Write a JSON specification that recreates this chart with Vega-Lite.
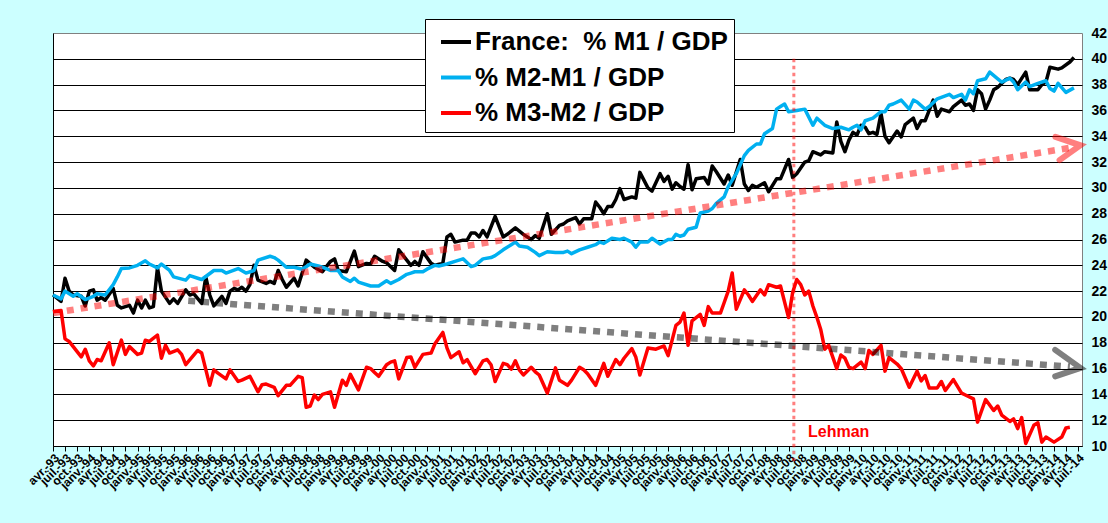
{
  "$schema": "https://vega.github.io/schema/vega-lite/v6.json",
  "width": 1029,
  "height": 413,
  "autosize": "none",
  "padding": {"left": 53, "top": 33, "right": 26, "bottom": 77},
  "background": "#ccffff",
  "config": {
    "font": "Liberation Sans",
    "view": {"fill": "#ffffff", "stroke": "#808080", "strokeWidth": 1},
    "legend": {
      "orient": "none", "legendX": 372, "legendY": -14,
      "fillColor": "#ffffff", "strokeColor": "#000000", "strokeWidth": 1,
      "padding": 6, "rowPadding": 5.5,
      "symbolType": "stroke", "symbolSize": 900, "symbolStrokeWidth": 4, "symbolOffset": 8,
      "labelFontSize": 26, "labelFontWeight": "bold", "labelColor": "#000000",
      "labelOffset": 2, "labelLimit": 0, "zindex": 1
    }
  },
  "layer": [
    {
      "data": {"values": [
        {"s":"M1","d":"1993-04","v":21.7},{"s":"M1","d":"1993-06","v":21.2},{"s":"M1","d":"1993-07","v":23.0},{"s":"M1","d":"1993-08","v":22.0},{"s":"M1","d":"1993-09","v":21.7},{"s":"M1","d":"1993-11","v":21.6},{"s":"M1","d":"1993-12","v":20.85},
        {"s":"M1","d":"1994-01","v":22.0},{"s":"M1","d":"1994-02","v":22.1},{"s":"M1","d":"1994-03","v":21.3},{"s":"M1","d":"1994-04","v":21.5},{"s":"M1","d":"1994-05","v":21.3},{"s":"M1","d":"1994-07","v":22.2},{"s":"M1","d":"1994-08","v":20.9},{"s":"M1","d":"1994-09","v":20.7},{"s":"M1","d":"1994-11","v":20.9},{"s":"M1","d":"1994-12","v":20.3},
        {"s":"M1","d":"1995-01","v":21.3},{"s":"M1","d":"1995-02","v":20.7},{"s":"M1","d":"1995-03","v":21.3},{"s":"M1","d":"1995-04","v":20.7},{"s":"M1","d":"1995-05","v":20.8},{"s":"M1","d":"1995-06","v":23.8},{"s":"M1","d":"1995-07","v":22.0},{"s":"M1","d":"1995-09","v":21.05},{"s":"M1","d":"1995-10","v":21.4},{"s":"M1","d":"1995-11","v":21.05},
        {"s":"M1","d":"1996-01","v":22.1},{"s":"M1","d":"1996-02","v":21.7},{"s":"M1","d":"1996-03","v":21.8},{"s":"M1","d":"1996-05","v":21.05},{"s":"M1","d":"1996-06","v":23.1},{"s":"M1","d":"1996-07","v":21.7},{"s":"M1","d":"1996-08","v":20.85},{"s":"M1","d":"1996-10","v":21.6},{"s":"M1","d":"1996-11","v":21.05},{"s":"M1","d":"1996-12","v":22.0},
        {"s":"M1","d":"1997-01","v":22.2},{"s":"M1","d":"1997-02","v":22.1},{"s":"M1","d":"1997-03","v":22.3},{"s":"M1","d":"1997-04","v":22.0},{"s":"M1","d":"1997-05","v":22.5},{"s":"M1","d":"1997-06","v":24.0},{"s":"M1","d":"1997-07","v":22.85},{"s":"M1","d":"1997-09","v":22.6},{"s":"M1","d":"1997-10","v":22.75},{"s":"M1","d":"1997-11","v":22.6},{"s":"M1","d":"1997-12","v":23.6},
        {"s":"M1","d":"1998-01","v":22.9},{"s":"M1","d":"1998-02","v":22.3},{"s":"M1","d":"1998-04","v":23.0},{"s":"M1","d":"1998-05","v":22.4},{"s":"M1","d":"1998-07","v":24.4},{"s":"M1","d":"1998-09","v":23.85},{"s":"M1","d":"1998-11","v":23.5},
        {"s":"M1","d":"1999-01","v":24.3},{"s":"M1","d":"1999-02","v":24.5},{"s":"M1","d":"1999-03","v":23.6},{"s":"M1","d":"1999-05","v":23.5},{"s":"M1","d":"1999-07","v":25.1},{"s":"M1","d":"1999-08","v":23.9},{"s":"M1","d":"1999-10","v":24.15},{"s":"M1","d":"1999-11","v":24.1},{"s":"M1","d":"1999-12","v":24.7},
        {"s":"M1","d":"2000-02","v":24.3},{"s":"M1","d":"2000-03","v":24.2},{"s":"M1","d":"2000-05","v":23.6},{"s":"M1","d":"2000-06","v":25.2},{"s":"M1","d":"2000-08","v":24.4},{"s":"M1","d":"2000-09","v":24.0},{"s":"M1","d":"2000-10","v":24.3},{"s":"M1","d":"2000-11","v":24.0},{"s":"M1","d":"2000-12","v":25.05},
        {"s":"M1","d":"2001-02","v":24.15},{"s":"M1","d":"2001-03","v":24.0},{"s":"M1","d":"2001-05","v":24.15},{"s":"M1","d":"2001-06","v":26.2},{"s":"M1","d":"2001-07","v":26.4},{"s":"M1","d":"2001-08","v":25.8},{"s":"M1","d":"2001-10","v":25.95},{"s":"M1","d":"2001-11","v":25.95},{"s":"M1","d":"2001-12","v":26.5},
        {"s":"M1","d":"2002-01","v":26.5},{"s":"M1","d":"2002-02","v":26.2},{"s":"M1","d":"2002-03","v":26.7},{"s":"M1","d":"2002-04","v":26.2},{"s":"M1","d":"2002-06","v":27.8},{"s":"M1","d":"2002-08","v":26.2},{"s":"M1","d":"2002-09","v":26.4},{"s":"M1","d":"2002-11","v":26.9},
        {"s":"M1","d":"2003-01","v":26.4},{"s":"M1","d":"2003-03","v":26.0},{"s":"M1","d":"2003-04","v":26.3},{"s":"M1","d":"2003-05","v":26.1},{"s":"M1","d":"2003-07","v":28.0},{"s":"M1","d":"2003-08","v":26.4},{"s":"M1","d":"2003-10","v":27.1},{"s":"M1","d":"2003-11","v":27.2},{"s":"M1","d":"2003-12","v":27.45},
        {"s":"M1","d":"2004-02","v":27.7},{"s":"M1","d":"2004-03","v":27.2},{"s":"M1","d":"2004-04","v":27.6},{"s":"M1","d":"2004-06","v":27.6},{"s":"M1","d":"2004-07","v":28.9},{"s":"M1","d":"2004-08","v":28.5},{"s":"M1","d":"2004-09","v":28.0},{"s":"M1","d":"2004-10","v":28.55},{"s":"M1","d":"2004-11","v":28.55},{"s":"M1","d":"2004-12","v":29.1},
        {"s":"M1","d":"2005-01","v":29.95},{"s":"M1","d":"2005-02","v":29.1},{"s":"M1","d":"2005-04","v":29.3},{"s":"M1","d":"2005-05","v":29.2},{"s":"M1","d":"2005-06","v":31.2},{"s":"M1","d":"2005-08","v":30.0},{"s":"M1","d":"2005-09","v":29.75},{"s":"M1","d":"2005-11","v":31.1},{"s":"M1","d":"2005-12","v":30.5},
        {"s":"M1","d":"2006-01","v":30.9},{"s":"M1","d":"2006-02","v":29.9},{"s":"M1","d":"2006-03","v":30.4},{"s":"M1","d":"2006-04","v":30.1},{"s":"M1","d":"2006-05","v":29.9},{"s":"M1","d":"2006-06","v":31.8},{"s":"M1","d":"2006-07","v":29.85},{"s":"M1","d":"2006-08","v":30.7},{"s":"M1","d":"2006-10","v":30.8},{"s":"M1","d":"2006-11","v":30.3},{"s":"M1","d":"2006-12","v":31.7},
        {"s":"M1","d":"2007-01","v":31.25},{"s":"M1","d":"2007-03","v":30.3},{"s":"M1","d":"2007-04","v":31.0},{"s":"M1","d":"2007-05","v":30.2},{"s":"M1","d":"2007-07","v":32.2},{"s":"M1","d":"2007-08","v":30.3},{"s":"M1","d":"2007-09","v":29.8},{"s":"M1","d":"2007-10","v":30.2},{"s":"M1","d":"2007-11","v":30.05},
        {"s":"M1","d":"2008-01","v":30.4},{"s":"M1","d":"2008-02","v":29.7},{"s":"M1","d":"2008-04","v":30.7},{"s":"M1","d":"2008-05","v":30.7},{"s":"M1","d":"2008-07","v":32.2},{"s":"M1","d":"2008-08","v":30.8},{"s":"M1","d":"2008-09","v":31.1},{"s":"M1","d":"2008-11","v":32.0},{"s":"M1","d":"2008-12","v":32.1},
        {"s":"M1","d":"2009-01","v":32.8},{"s":"M1","d":"2009-03","v":32.55},{"s":"M1","d":"2009-04","v":32.8},{"s":"M1","d":"2009-06","v":32.7},{"s":"M1","d":"2009-07","v":35.1},{"s":"M1","d":"2009-08","v":33.6},{"s":"M1","d":"2009-09","v":32.8},{"s":"M1","d":"2009-10","v":33.7},{"s":"M1","d":"2009-11","v":34.3},{"s":"M1","d":"2009-12","v":34.1},
        {"s":"M1","d":"2010-01","v":34.85},{"s":"M1","d":"2010-02","v":34.7},{"s":"M1","d":"2010-03","v":34.2},{"s":"M1","d":"2010-04","v":34.3},{"s":"M1","d":"2010-05","v":34.15},{"s":"M1","d":"2010-06","v":35.75},{"s":"M1","d":"2010-07","v":34.0},{"s":"M1","d":"2010-08","v":33.5},{"s":"M1","d":"2010-10","v":34.4},{"s":"M1","d":"2010-11","v":33.95},{"s":"M1","d":"2010-12","v":34.9},
        {"s":"M1","d":"2011-02","v":35.4},{"s":"M1","d":"2011-03","v":34.6},{"s":"M1","d":"2011-04","v":35.2},{"s":"M1","d":"2011-05","v":35.2},{"s":"M1","d":"2011-06","v":36.0},{"s":"M1","d":"2011-07","v":36.8},{"s":"M1","d":"2011-08","v":35.55},{"s":"M1","d":"2011-09","v":36.1},{"s":"M1","d":"2011-11","v":35.9},{"s":"M1","d":"2011-12","v":36.3},
        {"s":"M1","d":"2012-02","v":36.8},{"s":"M1","d":"2012-03","v":36.4},{"s":"M1","d":"2012-04","v":36.5},{"s":"M1","d":"2012-05","v":36.0},{"s":"M1","d":"2012-06","v":37.6},{"s":"M1","d":"2012-07","v":37.3},{"s":"M1","d":"2012-08","v":36.1},{"s":"M1","d":"2012-09","v":36.8},{"s":"M1","d":"2012-10","v":37.6},{"s":"M1","d":"2012-11","v":37.8},
        {"s":"M1","d":"2013-01","v":38.4},{"s":"M1","d":"2013-02","v":38.5},{"s":"M1","d":"2013-03","v":38.4},{"s":"M1","d":"2013-04","v":38.0},{"s":"M1","d":"2013-06","v":38.97},{"s":"M1","d":"2013-07","v":37.6},{"s":"M1","d":"2013-09","v":37.6},{"s":"M1","d":"2013-10","v":38.0},{"s":"M1","d":"2013-11","v":38.2},{"s":"M1","d":"2013-12","v":39.35},
        {"s":"M1","d":"2014-02","v":39.2},{"s":"M1","d":"2014-03","v":39.3},{"s":"M1","d":"2014-05","v":39.75},{"s":"M1","d":"2014-06","v":40.1},

        {"s":"M2","d":"1993-04","v":21.7},{"s":"M2","d":"1993-06","v":21.4},{"s":"M2","d":"1993-07","v":22.0},{"s":"M2","d":"1993-09","v":21.6},{"s":"M2","d":"1993-10","v":21.8},{"s":"M2","d":"1993-12","v":21.35},
        {"s":"M2","d":"1994-02","v":21.6},{"s":"M2","d":"1994-03","v":21.8},{"s":"M2","d":"1994-05","v":21.7},{"s":"M2","d":"1994-07","v":22.5},{"s":"M2","d":"1994-08","v":23.1},{"s":"M2","d":"1994-09","v":23.75},{"s":"M2","d":"1994-11","v":23.8},
        {"s":"M2","d":"1995-01","v":24.0},{"s":"M2","d":"1995-03","v":24.35},{"s":"M2","d":"1995-04","v":24.1},{"s":"M2","d":"1995-06","v":23.8},{"s":"M2","d":"1995-07","v":24.1},{"s":"M2","d":"1995-09","v":23.6},{"s":"M2","d":"1995-10","v":23.1},
        {"s":"M2","d":"1996-01","v":22.85},{"s":"M2","d":"1996-02","v":23.2},{"s":"M2","d":"1996-04","v":23.0},{"s":"M2","d":"1996-05","v":22.9},{"s":"M2","d":"1996-08","v":23.6},{"s":"M2","d":"1996-10","v":23.6},{"s":"M2","d":"1996-11","v":23.4},
        {"s":"M2","d":"1997-02","v":23.75},{"s":"M2","d":"1997-04","v":23.4},{"s":"M2","d":"1997-06","v":23.6},{"s":"M2","d":"1997-07","v":24.4},{"s":"M2","d":"1997-10","v":24.7},{"s":"M2","d":"1997-11","v":24.6},{"s":"M2","d":"1997-12","v":24.4},
        {"s":"M2","d":"1998-02","v":23.85},{"s":"M2","d":"1998-04","v":23.85},{"s":"M2","d":"1998-06","v":23.7},{"s":"M2","d":"1998-08","v":24.1},{"s":"M2","d":"1998-10","v":23.95},{"s":"M2","d":"1998-11","v":23.85},
        {"s":"M2","d":"1999-01","v":23.6},{"s":"M2","d":"1999-03","v":23.6},{"s":"M2","d":"1999-04","v":23.1},{"s":"M2","d":"1999-06","v":22.75},{"s":"M2","d":"1999-07","v":23.0},{"s":"M2","d":"1999-08","v":22.7},{"s":"M2","d":"1999-11","v":22.4},
        {"s":"M2","d":"2000-01","v":22.4},{"s":"M2","d":"2000-03","v":22.8},{"s":"M2","d":"2000-04","v":22.6},{"s":"M2","d":"2000-06","v":22.9},{"s":"M2","d":"2000-08","v":23.3},{"s":"M2","d":"2000-09","v":23.4},{"s":"M2","d":"2000-10","v":23.5},{"s":"M2","d":"2000-12","v":23.5},
        {"s":"M2","d":"2001-01","v":23.7},{"s":"M2","d":"2001-03","v":24.0},{"s":"M2","d":"2001-04","v":23.95},{"s":"M2","d":"2001-06","v":24.1},{"s":"M2","d":"2001-08","v":24.3},{"s":"M2","d":"2001-10","v":24.5},{"s":"M2","d":"2001-12","v":23.9},
        {"s":"M2","d":"2002-01","v":24.0},{"s":"M2","d":"2002-03","v":24.5},{"s":"M2","d":"2002-05","v":24.6},{"s":"M2","d":"2002-06","v":24.75},{"s":"M2","d":"2002-08","v":25.2},{"s":"M2","d":"2002-10","v":25.6},{"s":"M2","d":"2002-11","v":25.8},{"s":"M2","d":"2002-12","v":25.5},
        {"s":"M2","d":"2003-02","v":25.4},{"s":"M2","d":"2003-04","v":25.0},{"s":"M2","d":"2003-05","v":24.75},{"s":"M2","d":"2003-07","v":25.05},{"s":"M2","d":"2003-09","v":25.0},{"s":"M2","d":"2003-11","v":25.0},{"s":"M2","d":"2003-12","v":25.1},
        {"s":"M2","d":"2004-01","v":24.9},{"s":"M2","d":"2004-03","v":25.2},{"s":"M2","d":"2004-05","v":25.4},{"s":"M2","d":"2004-07","v":25.6},{"s":"M2","d":"2004-08","v":25.8},{"s":"M2","d":"2004-09","v":25.7},{"s":"M2","d":"2004-11","v":26.1},
        {"s":"M2","d":"2005-01","v":26.0},{"s":"M2","d":"2005-02","v":26.1},{"s":"M2","d":"2005-04","v":25.8},{"s":"M2","d":"2005-05","v":25.4},{"s":"M2","d":"2005-06","v":25.8},{"s":"M2","d":"2005-08","v":25.8},{"s":"M2","d":"2005-09","v":26.1},{"s":"M2","d":"2005-11","v":25.65},
        {"s":"M2","d":"2006-01","v":26.0},{"s":"M2","d":"2006-02","v":26.0},{"s":"M2","d":"2006-03","v":26.4},{"s":"M2","d":"2006-04","v":26.25},{"s":"M2","d":"2006-05","v":26.35},{"s":"M2","d":"2006-06","v":26.8},{"s":"M2","d":"2006-08","v":26.95},{"s":"M2","d":"2006-09","v":28.05},{"s":"M2","d":"2006-11","v":28.2},{"s":"M2","d":"2006-12","v":28.4},
        {"s":"M2","d":"2007-01","v":28.8},{"s":"M2","d":"2007-03","v":29.3},{"s":"M2","d":"2007-04","v":30.1},{"s":"M2","d":"2007-06","v":31.1},{"s":"M2","d":"2007-08","v":32.5},{"s":"M2","d":"2007-09","v":32.9},{"s":"M2","d":"2007-11","v":33.4},{"s":"M2","d":"2007-12","v":33.4},
        {"s":"M2","d":"2008-01","v":34.2},{"s":"M2","d":"2008-03","v":34.6},{"s":"M2","d":"2008-04","v":36.1},{"s":"M2","d":"2008-05","v":36.3},{"s":"M2","d":"2008-06","v":36.5},{"s":"M2","d":"2008-07","v":35.9},{"s":"M2","d":"2008-09","v":36.0},{"s":"M2","d":"2008-11","v":36.1},
        {"s":"M2","d":"2009-01","v":34.85},{"s":"M2","d":"2009-02","v":35.4},{"s":"M2","d":"2009-04","v":34.85},{"s":"M2","d":"2009-06","v":34.6},{"s":"M2","d":"2009-08","v":34.7},{"s":"M2","d":"2009-10","v":34.5},{"s":"M2","d":"2009-11","v":34.7},{"s":"M2","d":"2009-12","v":34.85},
        {"s":"M2","d":"2010-01","v":34.5},{"s":"M2","d":"2010-02","v":35.2},{"s":"M2","d":"2010-04","v":35.4},{"s":"M2","d":"2010-06","v":35.9},{"s":"M2","d":"2010-07","v":35.9},{"s":"M2","d":"2010-08","v":36.4},{"s":"M2","d":"2010-09","v":36.5},{"s":"M2","d":"2010-11","v":36.8},
        {"s":"M2","d":"2011-01","v":36.1},{"s":"M2","d":"2011-02","v":36.8},{"s":"M2","d":"2011-03","v":36.65},{"s":"M2","d":"2011-05","v":36.1},{"s":"M2","d":"2011-06","v":36.3},{"s":"M2","d":"2011-08","v":36.9},{"s":"M2","d":"2011-11","v":37.25},{"s":"M2","d":"2011-12","v":37.0},
        {"s":"M2","d":"2012-02","v":37.25},{"s":"M2","d":"2012-03","v":36.8},{"s":"M2","d":"2012-04","v":37.6},{"s":"M2","d":"2012-05","v":37.3},{"s":"M2","d":"2012-06","v":38.3},{"s":"M2","d":"2012-08","v":38.45},{"s":"M2","d":"2012-09","v":38.97},{"s":"M2","d":"2012-11","v":38.45},{"s":"M2","d":"2012-12","v":38.2},
        {"s":"M2","d":"2013-02","v":38.5},{"s":"M2","d":"2013-03","v":38.2},{"s":"M2","d":"2013-04","v":37.6},{"s":"M2","d":"2013-06","v":38.2},{"s":"M2","d":"2013-07","v":37.85},{"s":"M2","d":"2013-09","v":38.1},{"s":"M2","d":"2013-11","v":38.3},{"s":"M2","d":"2013-12","v":37.7},
        {"s":"M2","d":"2014-01","v":37.5},{"s":"M2","d":"2014-02","v":38.1},{"s":"M2","d":"2014-04","v":37.4},{"s":"M2","d":"2014-06","v":37.75},

        {"s":"M3","d":"1993-04","v":20.4},{"s":"M3","d":"1993-06","v":20.5},{"s":"M3","d":"1993-07","v":18.3},{"s":"M3","d":"1993-08","v":18.1},{"s":"M3","d":"1993-09","v":17.7},{"s":"M3","d":"1993-11","v":16.9},{"s":"M3","d":"1993-12","v":17.5},
        {"s":"M3","d":"1994-01","v":16.6},{"s":"M3","d":"1994-02","v":16.2},{"s":"M3","d":"1994-03","v":16.7},{"s":"M3","d":"1994-04","v":16.6},{"s":"M3","d":"1994-06","v":18.0},{"s":"M3","d":"1994-07","v":16.3},{"s":"M3","d":"1994-09","v":18.2},{"s":"M3","d":"1994-10","v":17.1},{"s":"M3","d":"1994-11","v":17.7},
        {"s":"M3","d":"1995-01","v":17.1},{"s":"M3","d":"1995-02","v":17.2},{"s":"M3","d":"1995-03","v":18.2},{"s":"M3","d":"1995-04","v":18.1},{"s":"M3","d":"1995-06","v":18.6},{"s":"M3","d":"1995-07","v":16.8},{"s":"M3","d":"1995-08","v":17.8},{"s":"M3","d":"1995-09","v":17.2},{"s":"M3","d":"1995-11","v":17.45},{"s":"M3","d":"1995-12","v":17.1},
        {"s":"M3","d":"1996-01","v":16.3},{"s":"M3","d":"1996-04","v":17.4},{"s":"M3","d":"1996-05","v":17.2},{"s":"M3","d":"1996-07","v":14.7},{"s":"M3","d":"1996-08","v":15.9},{"s":"M3","d":"1996-09","v":15.65},{"s":"M3","d":"1996-11","v":15.2},{"s":"M3","d":"1996-12","v":15.9},
        {"s":"M3","d":"1997-02","v":15.0},{"s":"M3","d":"1997-03","v":15.1},{"s":"M3","d":"1997-05","v":15.4},{"s":"M3","d":"1997-07","v":14.2},{"s":"M3","d":"1997-08","v":14.75},{"s":"M3","d":"1997-09","v":14.8},{"s":"M3","d":"1997-11","v":14.55},{"s":"M3","d":"1997-12","v":13.9},
        {"s":"M3","d":"1998-02","v":14.7},{"s":"M3","d":"1998-03","v":14.7},{"s":"M3","d":"1998-05","v":15.4},{"s":"M3","d":"1998-06","v":15.3},{"s":"M3","d":"1998-07","v":13.0},{"s":"M3","d":"1998-08","v":13.1},{"s":"M3","d":"1998-09","v":13.95},{"s":"M3","d":"1998-10","v":13.6},{"s":"M3","d":"1998-11","v":14.0},
        {"s":"M3","d":"1999-01","v":14.2},{"s":"M3","d":"1999-02","v":13.0},{"s":"M3","d":"1999-04","v":15.1},{"s":"M3","d":"1999-05","v":14.7},{"s":"M3","d":"1999-06","v":15.55},{"s":"M3","d":"1999-08","v":14.35},{"s":"M3","d":"1999-10","v":16.1},{"s":"M3","d":"1999-11","v":16.0},{"s":"M3","d":"1999-12","v":15.7},
        {"s":"M3","d":"2000-01","v":15.4},{"s":"M3","d":"2000-03","v":16.3},{"s":"M3","d":"2000-04","v":16.5},{"s":"M3","d":"2000-05","v":16.6},{"s":"M3","d":"2000-06","v":15.2},{"s":"M3","d":"2000-08","v":16.85},{"s":"M3","d":"2000-09","v":16.9},{"s":"M3","d":"2000-10","v":16.1},{"s":"M3","d":"2000-12","v":17.1},
        {"s":"M3","d":"2001-02","v":17.2},{"s":"M3","d":"2001-03","v":17.9},{"s":"M3","d":"2001-05","v":18.8},{"s":"M3","d":"2001-06","v":17.6},{"s":"M3","d":"2001-07","v":16.85},{"s":"M3","d":"2001-09","v":17.3},{"s":"M3","d":"2001-10","v":16.45},{"s":"M3","d":"2001-11","v":16.7},
        {"s":"M3","d":"2002-01","v":15.6},{"s":"M3","d":"2002-03","v":16.6},{"s":"M3","d":"2002-04","v":16.7},{"s":"M3","d":"2002-05","v":16.3},{"s":"M3","d":"2002-06","v":15.0},{"s":"M3","d":"2002-08","v":16.4},{"s":"M3","d":"2002-09","v":16.3},{"s":"M3","d":"2002-10","v":15.95},{"s":"M3","d":"2002-11","v":16.6},{"s":"M3","d":"2002-12","v":15.9},
        {"s":"M3","d":"2003-01","v":15.5},{"s":"M3","d":"2003-03","v":16.1},{"s":"M3","d":"2003-04","v":15.75},{"s":"M3","d":"2003-05","v":15.5},{"s":"M3","d":"2003-07","v":14.1},{"s":"M3","d":"2003-09","v":16.05},{"s":"M3","d":"2003-10","v":15.1},{"s":"M3","d":"2003-12","v":14.7},
        {"s":"M3","d":"2004-01","v":15.1},{"s":"M3","d":"2004-03","v":16.1},{"s":"M3","d":"2004-04","v":15.9},{"s":"M3","d":"2004-05","v":15.6},{"s":"M3","d":"2004-07","v":14.7},{"s":"M3","d":"2004-09","v":16.4},{"s":"M3","d":"2004-10","v":15.4},{"s":"M3","d":"2004-12","v":16.7},
        {"s":"M3","d":"2005-01","v":16.3},{"s":"M3","d":"2005-02","v":16.8},{"s":"M3","d":"2005-04","v":17.55},{"s":"M3","d":"2005-05","v":16.9},{"s":"M3","d":"2005-06","v":15.5},{"s":"M3","d":"2005-08","v":17.6},{"s":"M3","d":"2005-10","v":17.5},{"s":"M3","d":"2005-12","v":17.75},
        {"s":"M3","d":"2006-01","v":17.0},{"s":"M3","d":"2006-03","v":19.35},{"s":"M3","d":"2006-04","v":19.6},{"s":"M3","d":"2006-05","v":20.3},{"s":"M3","d":"2006-06","v":17.8},{"s":"M3","d":"2006-07","v":19.7},{"s":"M3","d":"2006-09","v":20.2},{"s":"M3","d":"2006-10","v":19.35},{"s":"M3","d":"2006-11","v":20.8},{"s":"M3","d":"2006-12","v":20.3},
        {"s":"M3","d":"2007-02","v":20.3},{"s":"M3","d":"2007-03","v":21.1},{"s":"M3","d":"2007-04","v":22.0},{"s":"M3","d":"2007-05","v":23.4},{"s":"M3","d":"2007-06","v":20.6},{"s":"M3","d":"2007-08","v":22.1},{"s":"M3","d":"2007-09","v":21.7},{"s":"M3","d":"2007-10","v":21.2},{"s":"M3","d":"2007-12","v":22.1},
        {"s":"M3","d":"2008-01","v":21.7},{"s":"M3","d":"2008-02","v":22.5},{"s":"M3","d":"2008-04","v":22.3},{"s":"M3","d":"2008-05","v":22.4},{"s":"M3","d":"2008-07","v":19.95},{"s":"M3","d":"2008-08","v":21.9},{"s":"M3","d":"2008-09","v":22.9},{"s":"M3","d":"2008-10","v":22.5},{"s":"M3","d":"2008-11","v":21.7},{"s":"M3","d":"2008-12","v":22.0},
        {"s":"M3","d":"2009-01","v":20.85},{"s":"M3","d":"2009-02","v":19.95},{"s":"M3","d":"2009-03","v":19.05},{"s":"M3","d":"2009-04","v":17.5},{"s":"M3","d":"2009-05","v":17.8},{"s":"M3","d":"2009-07","v":16.0},{"s":"M3","d":"2009-08","v":17.05},{"s":"M3","d":"2009-09","v":16.8},{"s":"M3","d":"2009-10","v":16.1},{"s":"M3","d":"2009-11","v":16.0},
        {"s":"M3","d":"2010-01","v":16.5},{"s":"M3","d":"2010-02","v":16.0},{"s":"M3","d":"2010-03","v":17.4},{"s":"M3","d":"2010-04","v":17.1},{"s":"M3","d":"2010-06","v":17.8},{"s":"M3","d":"2010-07","v":15.8},{"s":"M3","d":"2010-08","v":16.85},{"s":"M3","d":"2010-10","v":16.35},{"s":"M3","d":"2010-11","v":16.0},
        {"s":"M3","d":"2011-01","v":14.55},{"s":"M3","d":"2011-03","v":15.8},{"s":"M3","d":"2011-04","v":15.05},{"s":"M3","d":"2011-05","v":15.45},{"s":"M3","d":"2011-06","v":14.5},{"s":"M3","d":"2011-08","v":14.5},{"s":"M3","d":"2011-09","v":15.0},{"s":"M3","d":"2011-10","v":14.3},{"s":"M3","d":"2011-12","v":15.15},
        {"s":"M3","d":"2012-02","v":14.1},{"s":"M3","d":"2012-03","v":13.95},{"s":"M3","d":"2012-05","v":13.65},{"s":"M3","d":"2012-06","v":11.85},{"s":"M3","d":"2012-08","v":13.6},{"s":"M3","d":"2012-10","v":12.75},{"s":"M3","d":"2012-11","v":13.1},{"s":"M3","d":"2012-12","v":12.4},
        {"s":"M3","d":"2013-02","v":11.9},{"s":"M3","d":"2013-03","v":12.1},{"s":"M3","d":"2013-04","v":11.35},{"s":"M3","d":"2013-05","v":12.2},{"s":"M3","d":"2013-06","v":10.2},{"s":"M3","d":"2013-08","v":11.6},{"s":"M3","d":"2013-09","v":11.8},{"s":"M3","d":"2013-10","v":10.3},{"s":"M3","d":"2013-11","v":10.7},
        {"s":"M3","d":"2014-01","v":10.3},{"s":"M3","d":"2014-03","v":10.7},{"s":"M3","d":"2014-04","v":11.4},{"s":"M3","d":"2014-05","v":11.45}
      ]},
      "mark": {"type": "line", "strokeWidth": 3.5, "strokeJoin": "round"},
      "encoding": {
        "x": {
          "field": "d", "type": "temporal",
          "scale": {"type": "utc", "domain": [{"year": 1993, "month": 4, "date": 1, "utc": true}, {"year": 2014, "month": 8, "date": 1, "utc": true}]},
          "axis": {
            "title": null, "grid": false, "orient": "bottom",
            "tickCount": {"interval": "month", "step": 3},
            "labelExpr": "['janv.','févr.','mars','avr.','mai','juin','juil.','août','sept.','oct.','nov.','déc.'][utcmonth(datum.value)] + '-' + utcFormat(datum.value, '%y')",
            "labelAngle": -45, "labelFontSize": 12, "labelFontWeight": "bold", "labelColor": "#000000",
            "labelOverlap": false, "labelFlush": false, "labelBound": false, "labelPadding": 1,
            "domain": true, "ticks": true,
            "domainColor": "#000000", "tickColor": "#000000", "tickSize": 5
          }
        },
        "y": {
          "field": "v", "type": "quantitative",
          "scale": {"domain": [10, 42], "nice": false, "zero": false},
          "axis": {
            "orient": "right", "title": null,
            "values": [10, 12, 14, 16, 18, 20, 22, 24, 26, 28, 30, 32, 34, 36, 38, 40, 42],
            "grid": true,
            "gridColor": {"condition": {"test": "datum.value === 42", "value": "transparent"}, "value": "#000000"},
            "gridWidth": 1,
            "domain": false, "ticks": false, "tickSize": 0,
            "labelFontSize": 14, "labelFontWeight": "bold", "labelColor": "#000000", "labelPadding": 9
          }
        },
        "color": {
          "field": "s", "type": "nominal",
          "scale": {"domain": ["M1", "M2", "M3"], "range": ["#000000", "#00b0f0", "#ff0000"]},
          "legend": {
            "title": null,
            "labelExpr": "datum.label == 'M1' ? 'France:\u00a0 % M1 / GDP' : datum.label == 'M2' ? '% M2-M1 / GDP' : '% M3-M2 / GDP'"
          }
        }
      }
    },
    {
      "data": {"values": [{"d": "1993-04-01", "v": 20.3}, {"d": "2014-05-01", "v": 33.1}]},
      "mark": {"type": "line", "color": "#ff0000", "opacity": 0.5, "strokeWidth": 6.5, "strokeDash": [7, 7], "strokeCap": "butt"},
      "encoding": {
        "x": {"field": "d", "type": "temporal"},
        "y": {"field": "v", "type": "quantitative", "axis": null}
      }
    },
    {
      "data": {"values": [{"d": "2014-01-12", "v": 33.95, "o": 1}, {"d": "2014-07-20", "v": 33.3, "o": 2}, {"d": "2014-02-12", "v": 32.15, "o": 3}]},
      "mark": {"type": "line", "color": "#ff0000", "opacity": 0.5, "strokeWidth": 6, "strokeCap": "round", "strokeJoin": "miter"},
      "encoding": {
        "x": {"field": "d", "type": "temporal"},
        "y": {"field": "v", "type": "quantitative", "axis": null},
        "order": {"field": "o"}
      }
    },
    {
      "data": {"values": [{"d": "1996-01-20", "v": 21.25}, {"d": "2014-05-01", "v": 16.15}]},
      "mark": {"type": "line", "color": "#000000", "opacity": 0.5, "strokeWidth": 6.5, "strokeDash": [7, 7], "strokeCap": "butt"},
      "encoding": {
        "x": {"field": "d", "type": "temporal"},
        "y": {"field": "v", "type": "quantitative", "axis": null}
      }
    },
    {
      "data": {"values": [{"d": "2014-01-10", "v": 17.45, "o": 1}, {"d": "2014-07-20", "v": 16.05, "o": 2}, {"d": "2014-01-10", "v": 15.4, "o": 3}]},
      "mark": {"type": "line", "color": "#000000", "opacity": 0.5, "strokeWidth": 6, "strokeCap": "round", "strokeJoin": "miter"},
      "encoding": {
        "x": {"field": "d", "type": "temporal"},
        "y": {"field": "v", "type": "quantitative", "axis": null},
        "order": {"field": "o"}
      }
    },
    {
      "data": {"values": [{"d": "2008-08-10", "v": 40, "v2": 8.8}]},
      "mark": {"type": "rule", "color": "#ff0000", "opacity": 0.5, "strokeWidth": 3, "strokeDash": [3.5, 3.5]},
      "encoding": {
        "x": {"field": "d", "type": "temporal"},
        "y": {
          "field": "v", "type": "quantitative",
          "axis": {"orient": "left", "title": null, "labels": false, "ticks": false, "grid": false, "domain": true, "domainColor": "#000000"}
        },
        "y2": {"field": "v2"}
      }
    },
    {
      "data": {"values": [{"d": "2008-11-25", "v": 11.06, "t": "Lehman"}]},
      "mark": {"type": "text", "align": "left", "baseline": "middle", "color": "#ff0000", "fontSize": 16, "fontWeight": "bold"},
      "encoding": {
        "x": {"field": "d", "type": "temporal"},
        "y": {"field": "v", "type": "quantitative", "axis": null},
        "text": {"field": "t"}
      }
    }
  ]
}
